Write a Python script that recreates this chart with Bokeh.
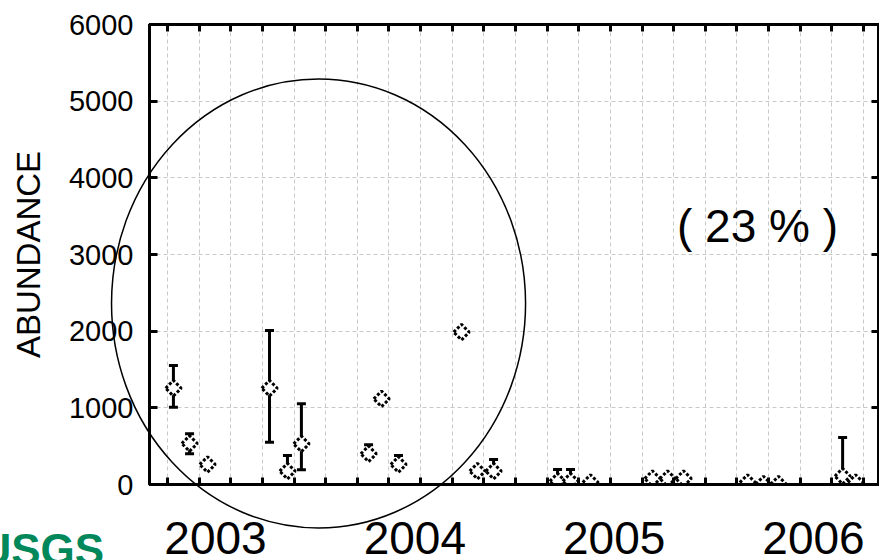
import numpy as np
from bokeh.plotting import figure
from bokeh.models import FixedTicker, LinearAxis, Range1d, ColumnDataSource
from bokeh.core.properties import value
from bokeh.embed import file_html
from bokeh.resources import INLINE

# ---------------- data ----------------
sample_date = [2003.289, 2003.370, 2003.460, 2003.771, 2003.861, 2003.931,
               2004.268, 2004.333, 2004.418, 2004.734, 2004.814, 2004.895,
               2005.216, 2005.281, 2005.381, 2005.692, 2005.768, 2005.848,
               2006.169, 2006.249, 2006.324, 2006.646, 2006.711]
abundance = [1256, 535, 261, 1256, 174, 530,
             400, 1117, 261, 1987, 174, 174,
             43, 43, 26, 77, 77, 77,
             26, 5, 5, 108, 26]
nan = float("nan")
err_low = [1008, 400, nan, 552, nan, 191,
           nan, nan, nan, nan, nan, nan,
           nan, nan, nan, nan, nan, nan,
           nan, nan, nan, nan, nan]
err_high = [1552, 661, nan, 2009, 378, 1052,
            517, nan, 378, nan, nan, 325,
            196, 196, nan, nan, nan, nan,
            nan, nan, nan, 613, nan]

year_labels = ["2003", "2004", "2005", "2006"]
year_label_pos = [2003.5, 2004.5, 2005.5, 2006.5]
year_label_y = -704
y_ticks = [0, 1000, 2000, 3000, 4000, 5000, 6000]
grid_start, grid_step, grid_count = 2003.259, 0.15873, 23
grid_ticks = [grid_start + k * grid_step for k in range(grid_count)]

percent_text = "( 23 % )"
percent_x, percent_y = 2006.219, 3366

ellipse_cx, ellipse_cy = 2004.017, 2361
ellipse_w, ellipse_h = 2.077, 5856

logo_text, logo_x, logo_y = "USGS", 2002.316, -848

FONT = "Liberation Sans"

# ---------------- figure ----------------
p = figure(width=879, height=560, output_backend="svg", toolbar_location=None,
           x_range=Range1d(2003.169, 2006.831), y_range=Range1d(0, 6000),
           min_border_left=149, min_border_right=0, min_border_top=24,
           min_border_bottom=76)
p.background_fill_color = "white"
p.border_fill_color = "white"
p.outline_line_color = "black"
p.outline_line_width = 3

xt = FixedTicker(ticks=[], minor_ticks=grid_ticks)
yt = FixedTicker(ticks=y_ticks, minor_ticks=[])
yt_minor = FixedTicker(ticks=[], minor_ticks=y_ticks)

# bottom axis: inward minor ticks only
xa = p.xaxis[0]
xa.ticker = xt
xa.major_tick_in = 0
xa.major_tick_out = 0
xa.minor_tick_in = 7
xa.minor_tick_out = 0
xa.minor_tick_line_width = 3
xa.minor_tick_line_color = "black"
xa.axis_line_width = 3

# left axis
ya = p.yaxis[0]
ya.ticker = yt
ya.major_tick_in = 8
ya.major_tick_out = 0
ya.major_tick_line_width = 3
ya.minor_tick_line_color = None
ya.axis_line_width = 3
ya.major_label_text_font = FONT
ya.major_label_text_font_size = "29px"
ya.major_label_text_color = "black"
ya.major_label_standoff = 16
ya.axis_label = "ABUNDANCE"
ya.axis_label_text_font = FONT
ya.axis_label_text_font_size = "33px"
ya.axis_label_text_font_style = "normal"
ya.axis_label_text_color = "black"
ya.axis_label_standoff = 19

# top axis
ta = LinearAxis(ticker=xt, major_tick_in=0, major_tick_out=0, minor_tick_in=7,
                minor_tick_out=0, minor_tick_line_width=3, axis_line_width=3)
p.add_layout(ta, "above")
# right axis
ra = LinearAxis(ticker=yt_minor, major_tick_in=0, major_tick_out=0, minor_tick_in=8,
                minor_tick_out=0, minor_tick_line_width=3, axis_line_width=3)
p.add_layout(ra, "right")

# grids
p.xgrid.grid_line_color = None
p.xgrid.minor_grid_line_color = "#c8c8c8"
p.xgrid.minor_grid_line_dash = "4 3"
p.xgrid.minor_grid_line_width = 1
p.ygrid.ticker = yt
p.ygrid.grid_line_color = "#c8c8c8"
p.ygrid.grid_line_dash = "4 3"
p.ygrid.grid_line_width = 1

# error bars
seg_y0 = [lo if lo == lo else v for lo, v in zip(err_low, abundance)]
src = ColumnDataSource(dict(x=sample_date, y=abundance, lo=err_low, hi=err_high, y0=seg_y0))
p.segment(x0="x", y0="y0", x1="x", y1="hi", source=src, line_color="black", line_width=3)
p.scatter(x="x", y="hi", source=src, marker="dash", size=9, line_width=3, line_color="black")
p.scatter(x="x", y="lo", source=src, marker="dash", size=9, line_width=3, line_color="black")

# markers
p.scatter(x="x", y="y", source=src, marker="square", angle=np.pi / 4, size=11,
          fill_color="white", line_color="black", line_width=3, line_dash="3 2")

# circled region
p.ellipse(x=[ellipse_cx], y=[ellipse_cy], width=[ellipse_w], height=[ellipse_h],
          fill_alpha=0, line_color="black", line_width=1.5, level="overlay")

# texts (as overlay glyphs so they may sit outside the frame)
p.text(x=[percent_x], y=[percent_y], text=[percent_text], text_font=value(FONT),
       text_font_size=value("46px"), text_align="center", text_baseline="alphabetic",
       text_color="black", level="overlay")
p.text(x=year_label_pos, y=[year_label_y] * len(year_labels), text=year_labels,
       text_font=value(FONT), text_font_size=value("46px"), text_align="center",
       text_baseline="alphabetic", text_color="black", level="overlay")
p.text(x=[logo_x], y=[logo_y], text=[logo_text], text_font=value(FONT),
       text_font_style="bold", text_font_size=value("44px"), text_color="#00875a",
       text_align="left", text_baseline="alphabetic", level="overlay")

open("out.html", "w").write(file_html(p, INLINE))
